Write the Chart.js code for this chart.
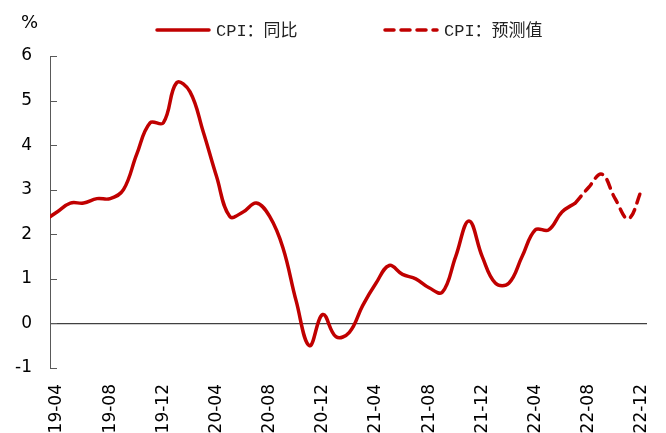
<!DOCTYPE html>
<html>
<head>
<meta charset="utf-8">
<script src="https://cdn.jsdelivr.net/npm/chart.js@4.4.0/dist/chart.umd.min.js"></script>
<style>
html, body { margin: 0; padding: 0; background: #fff; overflow: hidden; }
#wrap { width: 666px; height: 433px; }
</style>
</head>
<body>
<div id="wrap"><canvas id="cpiChart" width="666" height="433"></canvas></div>
<script>
// tick labels on the x axis, one every 4 months (x index 0 = 19-04)
const monthLabels = ["19-04","19-08","19-12","20-04","20-08","20-12","21-04","21-08","21-12","22-04","22-08","22-12"];
// CPI yoy, monthly 19-03 .. 22-07 (19-03 sits just left of the axis and gets clipped)
const cpiActual = [2.3, 2.5, 2.7, 2.7, 2.8, 2.8, 3.0, 3.8, 4.5, 4.5,
                   5.4, 5.2, 4.3, 3.3, 2.4, 2.5, 2.7, 2.4, 1.7, 0.5,
                   -0.5, 0.2, -0.3, -0.2, 0.4, 0.9, 1.3, 1.1, 1.0, 0.8,
                   0.7, 1.5, 2.3, 1.5, 0.9, 0.9, 1.5, 2.1, 2.1, 2.5, 2.7];
// forecast 22-07 .. 22-12
const cpiForecast = [2.7, 3.05, 3.35, 2.8, 2.35, 3.0];
const yTicks = [-1, 0, 1, 2, 3, 4, 5, 6];

const red = '#C00000';
const actualPts = cpiActual.map((v, i) => ({x: i - 1, y: v}));
const forecastPts = cpiForecast.map((v, i) => ({x: 39 + i, y: v}));

// inner tick marks, the % unit and the legend
const decor = {
  id: 'decor',
  afterDraw(chart) {
    const {ctx, chartArea, scales: {y}} = chart;
    ctx.save();
    ctx.strokeStyle = '#595959';
    ctx.lineWidth = 1;
    yTicks.forEach(v => {
      const py = Math.round(y.getPixelForValue(v)) + 0.5;
      ctx.beginPath();
      ctx.moveTo(chartArea.left, py);
      ctx.lineTo(chartArea.left + 7, py);
      ctx.stroke();
    });

    ctx.fillStyle = '#000';
    ctx.font = '18px "DejaVu Sans"';
    ctx.textBaseline = 'alphabetic';
    ctx.fillText('%', 21, 28);

    const items = [{x: 155}, {x: 383}];
    chart.data.datasets.forEach((ds, i) => {
      const lx = items[i].x;
      ctx.strokeStyle = ds.borderColor;
      ctx.lineWidth = 3.5;
      ctx.lineCap = 'round';
      ctx.setLineDash(ds.borderDash || []);
      ctx.beginPath();
      ctx.moveTo(lx + 2, 30);
      ctx.lineTo(lx + 54, 30);
      ctx.stroke();
      ctx.setLineDash([]);
      ctx.fillStyle = '#222';
      ctx.font = '17px "Liberation Mono", "Noto Sans CJK SC"';
      ctx.textBaseline = 'middle';
      ctx.fillText(ds.label, lx + 61, 31);
    });
    ctx.restore();
  }
};

new Chart(document.getElementById('cpiChart'), {
  type: 'line',
  data: {
    datasets: [
      {
        label: 'CPI：同比',
        data: actualPts,
        borderColor: red,
        borderWidth: 3.5,
        pointRadius: 0,
        tension: 0.4,
        fill: false
      },
      {
        label: 'CPI：预测值',
        data: forecastPts,
        borderColor: red,
        borderWidth: 3.5,
        borderDash: [9, 7],
        borderCapStyle: 'round',
        pointRadius: 0,
        tension: 0.4,
        fill: false
      }
    ]
  },
  options: {
    responsive: false,
    animation: false,
    devicePixelRatio: 1,
    layout: { padding: { top: 56, right: 19, left: 0, bottom: 0 } },
    plugins: { legend: { display: false }, tooltip: { enabled: false } },
    scales: {
      x: {
        type: 'linear',
        min: -0.53,
        max: 44.4,
        afterBuildTicks: s => { s.ticks = monthLabels.map((l, i) => ({value: i * 4})); },
        afterFit: s => { s.height = 65; s.paddingRight = 0; s.paddingLeft = 0; },
        grid: { display: false },
        border: { display: false },
        ticks: {
          autoSkip: false,
          minRotation: 90,
          maxRotation: 90,
          padding: 8,
          color: '#000',
          font: { family: 'DejaVu Sans', size: 17 },
          callback: v => monthLabels[Math.round(v / 4)]
        }
      },
      y: {
        min: -1,
        max: 6,
        afterFit: s => { s.width = 50; },
        grid: {
          drawTicks: false,
          color: c => (c.tick && c.tick.value === 0) ? '#404040' : 'rgba(0,0,0,0)',
          lineWidth: 1.2
        },
        border: { display: true, color: '#595959', width: 1 },
        ticks: {
          stepSize: 1,
          padding: 18,
          color: '#000',
          font: { family: 'DejaVu Sans', size: 17 }
        }
      }
    }
  },
  plugins: [decor]
});
</script>
</body>
</html>
